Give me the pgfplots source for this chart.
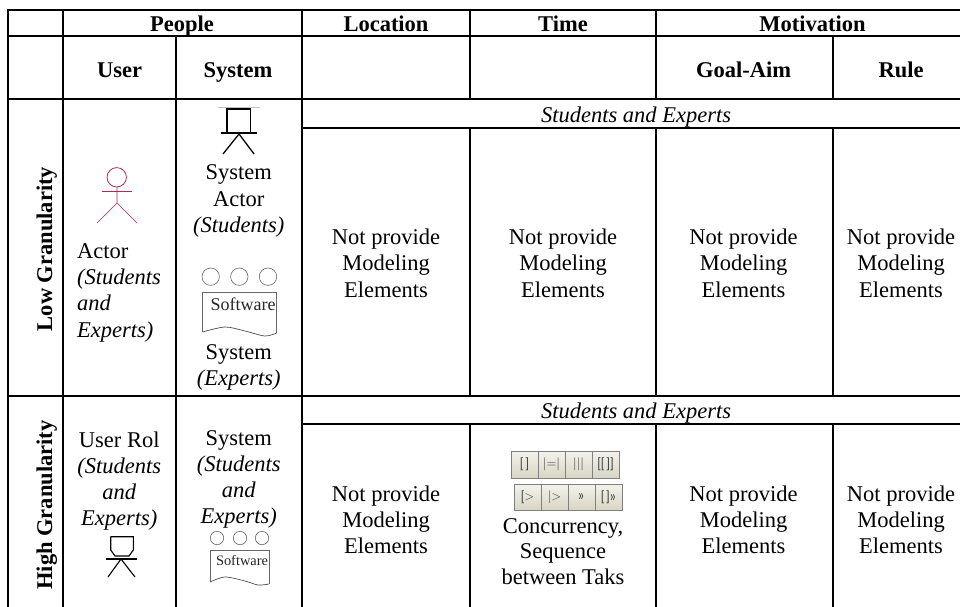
\documentclass[border=0pt]{standalone}
\usepackage{pgfplots}
\pgfplotsset{compat=1.18}
\usepackage{fontspec}
\setmainfont{Liberation Serif}
\newcommand{\tx}[4][]{\node[anchor=base,font=\fontsize{22.5}{26}\selectfont,inner sep=0pt,yshift=-1pt,#1] at (axis cs:#2,#3) {#4};}
\newcommand{\np}[4]{\tx{#1}{#2}{Not provide}\tx{#1}{#3}{Modeling}\tx{#1}{#4}{Elements}}
\newcommand{\hl}[3]{\addplot[black,line width=2pt,forget plot] coordinates {(#1,#3)(#2,#3)};}
\newcommand{\vl}[3]{\addplot[black,line width=2pt,forget plot] coordinates {(#1,#2)(#1,#3)};}
\definecolor{act}{RGB}{175,40,85}
\definecolor{btnt}{RGB}{244,243,236}
\definecolor{btnb}{RGB}{216,213,196}
\newcommand{\btn}[5]{\draw[top color=btnt,bottom color=btnb,draw=black!50,line width=1pt] (axis cs:#1,#2) rectangle (axis cs:#3,#4);\node[font=\fontsize{13}{13}\selectfont\sffamily,inner sep=0pt,color=black!80] at (axis cs:{(#1+#3)/2},{(#2+#4)/2}) {#5};}
\begin{document}
\begin{tikzpicture}
\useasboundingbox (0,0) rectangle (960pt,607pt);
\begin{axis}[scale only axis,width=960pt,height=607pt,xmin=0,xmax=960,ymin=0,ymax=607,y dir=reverse,axis lines=none,clip=false]
% rules
\hl{7}{960}{10}
\hl{7}{960}{36.5}
\hl{7}{960}{99.5}
\hl{301.7}{960}{127.5}
\hl{7}{960}{395.7}
\hl{301.7}{960}{423.7}
\vl{8}{10}{607}
\vl{62.7}{10}{607}
\vl{175.7}{36.5}{607}
\vl{301.7}{10}{607}
\vl{470}{10}{99.5}
\vl{470}{127.5}{395.7}
\vl{470}{423.7}{607}
\vl{656}{10}{99.5}
\vl{656}{127.5}{395.7}
\vl{656}{423.7}{607}
\vl{832.7}{36.5}{99.5}
\vl{832.7}{127.5}{395.7}
\vl{832.7}{423.7}{607}
% headers
\tx{182}{31}{\textbf{People}}
\tx{386}{31}{\textbf{Location}}
\tx{563}{31}{\textbf{Time}}
\tx{812.5}{31}{\textbf{Motivation}}
\tx{119.5}{77}{\textbf{User}}
\tx{238}{77}{\textbf{System}}
\tx{743.5}{77}{\textbf{Goal-Aim}}
\tx{901}{77}{\textbf{Rule}}
\tx{636}{122}{\textit{Students and Experts}}
\tx{636}{417}{\textit{Students and Experts}}
\tx[rotate=90,yshift=0pt]{52}{248}{\textbf{Low Granularity}}
\tx[rotate=90,yshift=0pt]{52}{504}{\textbf{High Granularity}}
% body
\tx[anchor=base west]{77}{257}{Actor}
\tx[anchor=base west]{77}{283}{\textit{(Students}}
\tx[anchor=base west]{77}{309}{\textit{and}}
\tx[anchor=base west]{77}{336}{\textit{Experts)}}
\tx{238.7}{178}{System}
\tx{238.7}{205}{Actor}
\tx{238.7}{231}{\textit{(Students)}}
\tx{238.7}{358}{System}
\tx{238.7}{384}{\textit{(Experts)}}
\np{386}{243}{269}{296}
\np{563}{243}{269}{296}
\np{743.5}{243}{269}{296}
\np{901}{243}{269}{296}
\np{386}{500}{526}{552.5}
\np{743.5}{500}{526}{552.5}
\np{901}{500}{526}{552.5}
\tx{563}{532}{Concurrency,}
\tx{563}{557}{Sequence}
\tx{563}{583}{between Taks}
\tx{119.3}{446}{User Rol}
\tx{119.3}{472}{\textit{(Students}}
\tx{119.3}{498}{\textit{and}}
\tx{119.3}{524}{\textit{Experts)}}
\tx{238.7}{444}{System}
\tx{238.7}{470}{\textit{(Students}}
\tx{238.7}{496}{\textit{and}}
\tx{238.7}{522}{\textit{Experts)}}
% actor icon
\addplot[act,line width=0.7pt,forget plot] coordinates {(117,187)(117,203)(97,223)};
\addplot[act,line width=0.7pt,forget plot] coordinates {(117,203)(137,223)};
\addplot[act,line width=0.9pt,forget plot] coordinates {(102,191)(132,191)};
\draw[act,line width=0.8pt] (axis cs:116.7,177.3) circle[radius=9.7pt];
% system actor icon
\addplot[lightgray,line width=1pt,forget plot] coordinates {(218,108)(260,108)};
\addplot[black,line width=1.4pt,forget plot] coordinates {(227,133)(227,109)(250.5,109)(250.5,133)};
\addplot[black,line width=1.4pt,forget plot] coordinates {(221,133)(257,133)};
\addplot[black,line width=1.3pt,forget plot] coordinates {(223,154)(239,134)(254,154)};
% low system icon
\draw[black!60,line width=0.6pt] (axis cs:210.7,276.7) circle[radius=8.7pt];
\draw[black!60,line width=0.6pt] (axis cs:239.3,276.7) circle[radius=8.7pt];
\draw[black!60,line width=0.6pt] (axis cs:268,276.7) circle[radius=8.7pt];
\addplot[black!60,line width=0.7pt,forget plot] coordinates {(202.7,332)(202.7,292)(276.7,292)(276.7,333)};
\node[font=\fontsize{18}{18}\selectfont,inner sep=0pt,color=black!85] at (axis cs:243,304) {Software};
\addplot[black!70,line width=0.7pt,smooth,forget plot] coordinates {(202.7,332)(225,327)(245,331)(265,336)(276.7,333)};
% high user icon
\addplot[black,line width=1.1pt,forget plot] coordinates {(110.7,536.7)(110.7,550)(115,556)(129,556)(133.3,550)(133.3,536.7)(110.7,536.7)};
\addplot[black,line width=1.1pt,forget plot] coordinates {(106,559)(136.7,559)};
\addplot[black,line width=1.1pt,forget plot] coordinates {(108,577)(121,559)(135,577)};
% high system icon
\draw[black!60,line width=0.6pt] (axis cs:217,538) circle[radius=6.7pt];
\draw[black!60,line width=0.6pt] (axis cs:240,538) circle[radius=6.7pt];
\draw[black!60,line width=0.6pt] (axis cs:262,538) circle[radius=6.7pt];
\addplot[black!60,line width=0.7pt,forget plot] coordinates {(210,582)(210,550.7)(269,550.7)(269,584)};
\node[font=\fontsize{14.4}{14.4}\selectfont,inner sep=0pt,color=black!85] at (axis cs:242,560) {Software};
\addplot[black!70,line width=0.7pt,smooth,forget plot] coordinates {(210,582)(225,577)(245,581)(258,585)(269,584)};
% toolbar
\btn{511}{451}{538}{478}{[\,]}
\btn{538}{451}{565}{478}{|=|}
\btn{565}{451}{592}{478}{|||}
\btn{592}{451}{619}{478}{[[\,]]}
\btn{514}{484}{541}{510}{[>}
\btn{541}{484}{568}{510}{|>}
\btn{568}{484}{595}{510}{>>}
\btn{595}{484}{622}{510}{[\,]>>}
\end{axis}
\end{tikzpicture}
\end{document}
